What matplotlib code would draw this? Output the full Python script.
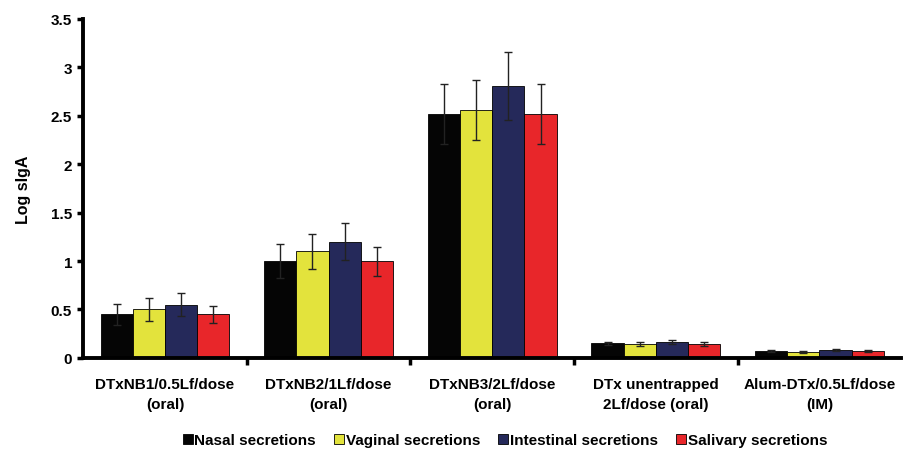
import numpy as np
import matplotlib.pyplot as plt
from matplotlib.lines import Line2D

plt.rcParams['font.family'] = ['Liberation Sans', 'DejaVu Sans']
plt.rcParams['font.weight'] = 'bold'

groups = ['DTxNB1/0.5Lf/dose\n(oral)', 'DTxNB2/1Lf/dose\n(oral)', 'DTxNB3/2Lf/dose\n(oral)',
          'DTx unentrapped\n2Lf/dose (oral)', 'Alum-DTx/0.5Lf/dose\n(IM)']
series = ['Nasal secretions', 'Vaginal secretions', 'Intestinal secretions', 'Salivary secretions']
colors = ['#050505', '#e3e33c', '#25295a', '#e8262a']

nasal = [0.45, 1.00, 2.52, 0.15, 0.07]
vaginal = [0.50, 1.10, 2.56, 0.14, 0.06]
intestinal = [0.55, 1.20, 2.81, 0.16, 0.08]
salivary = [0.45, 1.00, 2.52, 0.14, 0.07]

nasal_err = [0.11, 0.18, 0.31, 0.015, 0.01]
vaginal_err = [0.115, 0.18, 0.31, 0.02, 0.01]
intestinal_err = [0.12, 0.19, 0.35, 0.02, 0.01]
salivary_err = [0.085, 0.15, 0.31, 0.02, 0.01]

values = [nasal, vaginal, intestinal, salivary]
errors = [nasal_err, vaginal_err, intestinal_err, salivary_err]

fig = plt.figure(figsize=(9.04, 4.52), dpi=100)
ax = fig.add_axes([0.092, 0.206, 0.905, 0.75])

x = np.arange(len(groups))
w = 0.197
for i in range(4):
    pos = x + (i - 1.5) * w
    ax.bar(pos, values[i], w, color=colors[i], edgecolor='black', linewidth=0.6, zorder=2)
    ax.errorbar(pos, values[i], yerr=errors[i], fmt='none', ecolor='#222222',
                elinewidth=1.0, capsize=3, capthick=1.0, zorder=3)

ax.set_xlim(-0.5, 4.5)
ax.set_ylim(0, 3.5)
ax.set_yticks(np.arange(0, 3.51, 0.5))
ax.set_yticklabels(['0', '0.5', '1', '1.5', '2', '2.5', '3', '3.5'])
ax.set_xticks(np.arange(0.5, 4.0, 1.0))
ax.set_xticklabels([])
ax.set_xticks(x, minor=True)
ax.set_xticklabels(groups, minor=True, fontsize=11, fontweight='bold', linespacing=1.5)
ax.tick_params(axis='x', which='minor', length=0, pad=14)
ax.tick_params(axis='x', which='major', length=5, width=2.5, direction='out')
ax.tick_params(axis='y', length=4, width=2.5, direction='out', labelsize=11, pad=4)

for s in ['top', 'right']:
    ax.spines[s].set_visible(False)
for s in ['left', 'bottom']:
    ax.spines[s].set_linewidth(2.8)

ax.set_ylabel('Log sIgA', fontsize=11.5, fontweight='bold', labelpad=14)

handles = [Line2D([0], [0], marker='s', linestyle='none', markersize=7,
                  markerfacecolor=c, markeredgecolor='black', markeredgewidth=0.6)
           for c in colors]
fig.legend(handles, series, loc='lower center', bbox_to_anchor=(0.558, -0.022), ncol=4,
           frameon=False, handletextpad=0.05, columnspacing=1.1,
           handlelength=0.8, prop={'weight': 'bold', 'size': 11})

fig.savefig('out.png', dpi=100)
